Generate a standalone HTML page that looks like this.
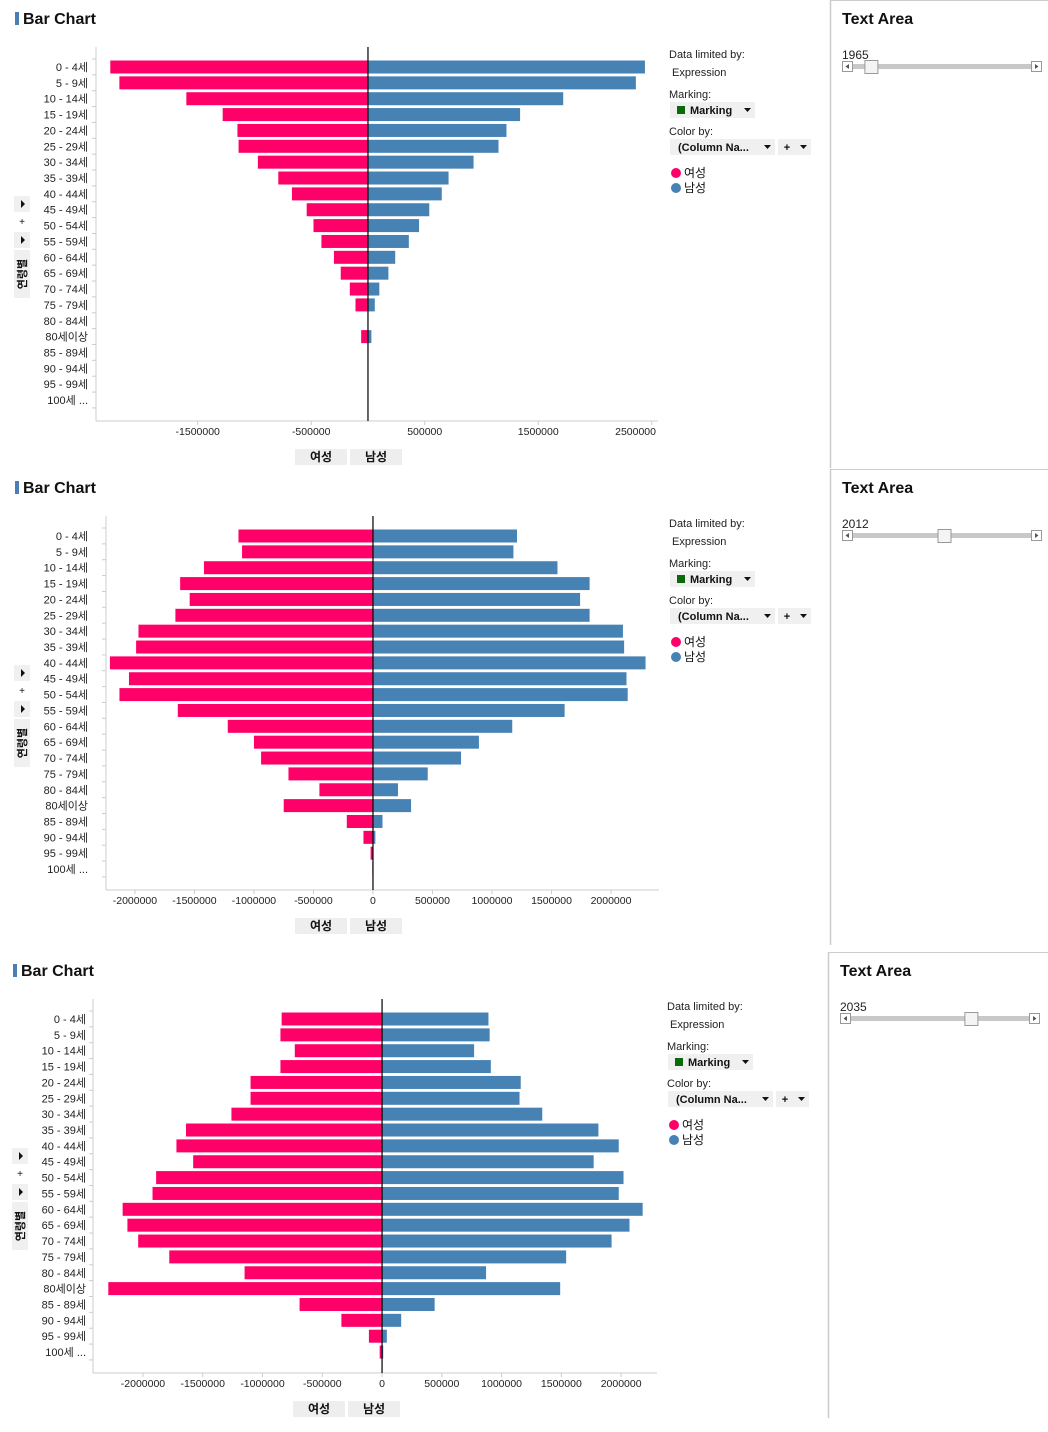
<!DOCTYPE html>
<html><head><meta charset="utf-8">
<style>
body{margin:0;background:#fff;width:1048px;height:1432px;overflow:hidden;font-family:"Liberation Sans","Noto Sans CJK KR",sans-serif;}
svg{display:block}
text{font-family:"Liberation Sans","Noto Sans CJK KR",sans-serif;}
</style></head>
<body>
<svg id="root" width="1048" height="1432" xmlns="http://www.w3.org/2000/svg"></svg>
<script>
const categories=["0 - 4세","5 - 9세","10 - 14세","15 - 19세","20 - 24세","25 - 29세","30 - 34세","35 - 39세","40 - 44세","45 - 49세","50 - 54세","55 - 59세","60 - 64세","65 - 69세","70 - 74세","75 - 79세","80 - 84세","80세이상","85 - 89세","90 - 94세","95 - 99세","100세 ..."];
const female1965=[2270000,2190000,1600000,1280000,1150000,1140000,970000,790000,670000,540000,480000,410000,300000,240000,160000,110000,0,60000,0,0,0,0];
const male1965=[2440000,2360000,1720000,1340000,1220000,1150000,930000,710000,650000,540000,450000,360000,240000,180000,100000,60000,0,30000,0,0,0,0];
const female2012=[1130000,1100000,1420000,1620000,1540000,1660000,1970000,1990000,2210000,2050000,2130000,1640000,1220000,1000000,940000,710000,450000,750000,220000,80000,20000,5000];
const male2012=[1210000,1180000,1550000,1820000,1740000,1820000,2100000,2110000,2290000,2130000,2140000,1610000,1170000,890000,740000,460000,210000,320000,80000,20000,4000,3000];
const female2035=[840000,850000,730000,850000,1100000,1100000,1260000,1640000,1720000,1580000,1890000,1920000,2170000,2130000,2040000,1780000,1150000,2290000,690000,340000,110000,20000];
const male2035=[890000,900000,770000,910000,1160000,1150000,1340000,1810000,1980000,1770000,2020000,1980000,2180000,2070000,1920000,1540000,870000,1490000,440000,160000,40000,10000];
const ticks1965=[-1500000,-500000,500000,1500000,2500000];
const ticks2012=[-2000000,-1500000,-1000000,-500000,0,500000,1000000,1500000,2000000];
const ticks2035=[-2000000,-1500000,-1000000,-500000,0,500000,1000000,1500000,2000000];
const years=["1965","2012","2035"];
const yearPos=[0.07,0.5,0.67];

const NS="http://www.w3.org/2000/svg";
const root=document.getElementById('root');
function mk(tag,attrs,parent,txt){const e=document.createElementNS(NS,tag);for(const k in attrs)e.setAttribute(k,attrs[k]);if(txt!==undefined)e.textContent=txt;(parent||root).appendChild(e);return e;}

const panels=[
 {oy:0,ox:0,fem:female1965,mal:male1965,ticks:ticks1965,dmin:-2396000,dmax:2555000,px0:96,px1:658,taX:830,taY:0,taH:468},
 {oy:469,ox:0,fem:female2012,mal:male2012,ticks:ticks2012,dmin:-2243000,dmax:2403000,px0:106,px1:659,taX:830,taY:469,taH:476},
 {oy:952,ox:-2,fem:female2035,mal:male2035,ticks:ticks2035,dmin:-2418000,dmax:2300000,px0:95,px1:659,taX:828,taY:952,taH:466}
];

panels.forEach((p,pi)=>{
 const g=mk('g',{transform:`translate(${p.ox},${p.oy})`});
 
 
 const xs=v=>p.px0+(v-p.dmin)/(p.dmax-p.dmin)*(p.px1-p.px0);
 const rowY=i=>67+i*15.86;
 const tb=mk('rect',{x:15,y:12,width:4,height:13,fill:'#4a7fb5'},g);
 
 const tt=mk('text',{x:23,y:24,'font-size':16,'font-weight':'bold',fill:'#111'},g,'Bar Chart');
 
 const ax=mk('line',{x1:p.px0,y1:47,x2:p.px0,y2:421,stroke:'#ccc','stroke-width':1},g);
 
 const bx=mk('line',{x1:p.px0,y1:421,x2:p.px1,y2:421,stroke:'#ccc','stroke-width':1},g);
 
 categories.forEach((c,i)=>{
  const y=rowY(i);
  mk('line',{x1:p.px0-4,y1:y-8,x2:p.px0,y2:y-8,stroke:'#ccc'},g);
  const lab=mk('text',{x:88,y:y+4,'font-size':11,'text-anchor':'end',fill:'#222'},g,c);
  
  const z=xs(0);
  const fv=p.fem[i],mv=p.mal[i];
  if(fv>0){const r=mk('rect',{x:xs(-fv),y:y-6.5,width:z-xs(-fv),height:13,fill:'#ff0068'},g);
   }
  if(mv>0){const r=mk('rect',{x:z,y:y-6.5,width:xs(mv)-z,height:13,fill:'#4682b4'},g);
   }
 });
 mk('line',{x1:p.px0-4,y1:rowY(22)-8,x2:p.px0,y2:rowY(22)-8,stroke:'#ccc'},g);
 const zl=mk('line',{x1:xs(0),y1:47,x2:xs(0),y2:421,stroke:'#000','stroke-width':1.2},g);
 
 p.ticks.forEach(t=>{
  mk('line',{x1:xs(t),y1:421,x2:xs(t),y2:425,stroke:'#ccc'},g);
  const over=xs(t)+20>p.px1;
  const tl=mk('text',{x:over?p.px1-2:xs(t),y:435,'font-size':10.5,'text-anchor':over?'end':'middle',fill:'#222'},g,String(t));
  
 });
 [['여성',295],['남성',350]].forEach(([s,x])=>{
  const r=mk('rect',{x:x,y:449,width:52,height:16,fill:'#eee'},g);
  
  mk('text',{x:x+26,y:461,'font-size':12,'font-weight':'bold','text-anchor':'middle',fill:'#111'},g,s);
 });
 const sc=mk('g',{},g);
 mk('rect',{x:14,y:196,width:16,height:16,fill:'#f0f0f0'},sc);
 mk('path',{d:'M21,200 L25,204 L21,208 Z',fill:'#111'},sc);
 mk('text',{x:22,y:225,'font-size':10,'text-anchor':'middle',fill:'#111'},sc,'+');
 mk('rect',{x:14,y:232,width:16,height:16,fill:'#f0f0f0'},sc);
 mk('path',{d:'M21,236 L25,240 L21,244 Z',fill:'#111'},sc);
 mk('rect',{x:14,y:250,width:16,height:48,fill:'#f0f0f0'},sc);
 mk('text',{x:0,y:0,'font-size':11,'font-weight':'bold','text-anchor':'middle',fill:'#111',transform:'translate(26,274) rotate(-90)'},sc,'연령별');
 const lg=mk('g',{},g);
 mk('text',{x:669,y:58,'font-size':11,fill:'#222'},lg,'Data limited by:');
 mk('text',{x:672,y:76,'font-size':11,fill:'#222'},lg,'Expression');
 mk('text',{x:669,y:98,'font-size':11,fill:'#222'},lg,'Marking:');
 const md=mk('g',{},lg);
 mk('rect',{x:670,y:102,width:85,height:16,fill:'#f0f0f0'},md);
 mk('rect',{x:677,y:106,width:8,height:8,fill:'#0a6a0a'},md);
 mk('text',{x:690,y:114,'font-size':11,'font-weight':'bold',fill:'#111'},md,'Marking');
 mk('path',{d:'M744,108 L751,108 L747.5,112 Z',fill:'#111'},md);
 mk('text',{x:669,y:135,'font-size':11,fill:'#222'},lg,'Color by:');
 const cd=mk('g',{},lg);
 mk('rect',{x:670,y:139,width:105,height:16,fill:'#f0f0f0'},cd);
 mk('text',{x:678,y:151,'font-size':11,'font-weight':'bold',fill:'#111'},cd,'(Column Na...');
 mk('path',{d:'M764,145 L771,145 L767.5,149 Z',fill:'#111'},cd);
 const pd=mk('g',{},lg);
 mk('rect',{x:778,y:139,width:33,height:16,fill:'#f0f0f0'},pd);
 mk('text',{x:787,y:151,'font-size':11,'font-weight':'bold','text-anchor':'middle',fill:'#111'},pd,'+');
 mk('path',{d:'M800,145 L807,145 L803.5,149 Z',fill:'#111'},pd);
 const l1=mk('g',{},lg);
 mk('circle',{cx:676,cy:173,r:5,fill:'#ff0068'},l1);
 mk('text',{x:684,y:177,'font-size':12,fill:'#111'},l1,'여성');
 const l2=mk('g',{},lg);
 mk('circle',{cx:676,cy:188,r:5,fill:'#4682b4'},l2);
 mk('text',{x:684,y:192,'font-size':12,fill:'#111'},l2,'남성');
});

panels.forEach((p,pi)=>{
 const g=mk('g',{transform:`translate(${p.taX},${p.taY})`});
 
 mk('line',{x1:0.5,y1:0,x2:0.5,y2:p.taH,stroke:'#ccc','stroke-width':1.5},g);
 mk('line',{x1:0,y1:0.5,x2:220,y2:0.5,stroke:'#ccc'},g);
 mk('text',{x:12,y:24,'font-size':16,'font-weight':'bold',fill:'#111'},g,'Text Area');
 const yt=mk('text',{x:12,y:59,'font-size':12,fill:'#222'},g,years[pi]);
 
 const sl=mk('g',{},g);
 mk('rect',{x:18,y:64,width:186,height:5,fill:'#c8c8c8'},sl);
 mk('rect',{x:12.5,y:61.5,width:10,height:10,fill:'#fff',stroke:'#999'},sl);
 mk('path',{d:'M19,64 L15.5,66.5 L19,69 Z',fill:'#555'},sl);
 mk('rect',{x:201.5,y:61.5,width:10,height:10,fill:'#fff',stroke:'#999'},sl);
 mk('path',{d:'M205,64 L208.5,66.5 L205,69 Z',fill:'#555'},sl);
 const tx=23+yearPos[pi]*170;
 const th=mk('rect',{x:tx,y:60.5,width:13,height:13,fill:'#f4f4f4',stroke:'#999'},sl);
 
});
</script>
</body></html>
